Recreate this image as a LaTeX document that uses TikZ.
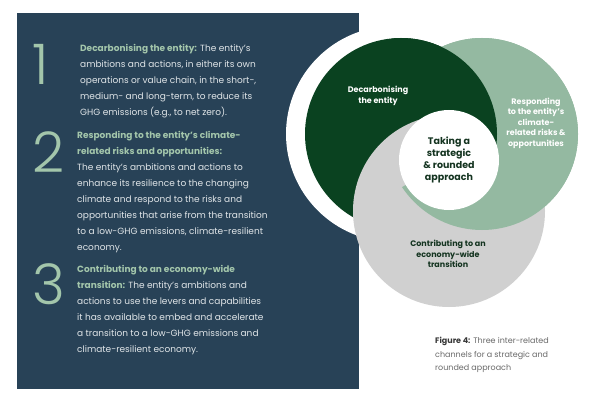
\documentclass[tikz,border=0pt]{standalone}
\usepackage{fontspec}
\setmainfont{Poppins}
\newfontfamily\numfont{Poppins Light}
\usetikzlibrary{positioning,calc}
\definecolor{panelnavy}{RGB}{40,66,87}
\definecolor{decarbgreen}{RGB}{10,66,32}
\definecolor{respondgreen}{RGB}{148,185,161}
\definecolor{contribgrey}{RGB}{208,208,208}
\definecolor{headgreen}{RGB}{163,198,171}
\definecolor{bodylight}{RGB}{224,229,232}
\definecolor{centregreen}{RGB}{20,52,32}
\definecolor{captiongrey}{RGB}{105,105,105}
\definecolor{captiondark}{RGB}{55,55,55}
\tikzset{
  panelpara/.style={
    anchor=north west, align=left, inner sep=0pt,
    text=bodylight, font=\fontsize{9}{16}\selectfont
  },
  bignum/.style={
    anchor=base west, inner sep=0pt, text=headgreen,
    font=\numfont\fontsize{56}{56}\selectfont
  },
  ringlabel/.style={
    align=center, inner sep=0pt,
    font=\bfseries\fontsize{8}{10.5}\selectfont
  },
  decarb/.style={fill=decarbgreen},
  respond/.style={fill=respondgreen},
  contrib/.style={fill=contribgrey}
}
\newcommand{\hd}[1]{\textcolor{headgreen}{\bfseries #1}}

\begin{document}
\begin{tikzpicture}[x=1pt, y=1pt]
  \useasboundingbox (0,0) rectangle (602,405);
  \fill[white] (0,0) rectangle (602,405);

  % left panel
  \fill[panelnavy] (17,16) rectangle (359,392);

  \node[panelpara] (p1) at (80,361)
    {\hd{Decarbonising the entity:} The entity’s\\
     ambitions and actions, in either its own\\
     operations or value chain, in the short-,\\
     medium- and long-term, to reduce its\\
     GHG emissions (e.g., to net zero).};
  \node[panelpara] (p2) at (77,274)
    {\hd{Responding to the entity’s climate-}\\
     \hd{related risks and opportunities:}\\
     The entity’s ambitions and actions to\\
     enhance its resilience to the changing\\
     climate and respond to the risks and\\
     opportunities that arise from the transition\\
     to a low-GHG emissions, climate-resilient\\
     economy.};
  \node[panelpara] (p3) at (77,140)
    {\hd{Contributing to an economy-wide}\\
     \hd{transition:} The entity’s ambitions and\\
     actions to use the levers and capabilities\\
     it has available to embed and accelerate\\
     a transition to a low-GHG emissions and\\
     climate-resilient economy.};

  \node[bignum] (n1) at (32,320) {1};
  \node[bignum] (n2) at (32,233) {2};
  \node[bignum] (n3) at (32,101) {3};

  % rings
  \coordinate (cD) at (401,271);
  \coordinate (cR) at (482,271);
  \coordinate (cC) at (449,194);
  \coordinate (cT) at (449,245);
  \coordinate (cW) at (394,271);

  \fill[white] (cW) circle[radius=108pt];

  \fill[respond] (cR) circle[radius=96pt];
  \fill[decarb] (cD) circle[radius=96pt];
  \fill[contrib] (cC) circle[radius=96pt];

  % light green over grey (lower right)
  \begin{scope}
    \clip (cT) -- ($(cT)+(210:300)$) -- ($(cT)+(270:300)$) -- ($(cT)+(330:300)$)
      -- ($(cT)+(30:300)$) -- ($(cT)+(100:300)$) -- cycle;
    \fill[respond] (cR) circle[radius=96pt];
  \end{scope}
  % dark green over light green (top right)
  \begin{scope}
    \clip (cT) -- ($(cT)+(-30:300)$) -- ($(cT)+(40:300)$) -- ($(cT)+(115:300)$) -- cycle;
    \fill[decarb] (cD) circle[radius=96pt];
  \end{scope}

  \fill[white] (cT) circle[radius=50pt];

  \node[ringlabel, text=white] (ld) at (378,309) {Decarbonising\\the entity};
  \node[ringlabel, text=white] (lr) at (536,282)
    {Responding\\to the entity’s\\climate-\\related risks \&\\opportunities};
  \node[ringlabel, text=centregreen] (lc) at (448,151)
    {Contributing to an\\economy-wide\\transition};
  \node[ringlabel, text=centregreen, font=\bfseries\fontsize{9.5}{12}\selectfont]
    (lt) at (cT) {Taking a\\strategic\\\& rounded\\approach};

  % caption
  \node[anchor=north west, align=left, inner sep=0pt, text=captiongrey,
        font=\fontsize{8}{13.5}\selectfont] (cap) at (435,68)
    {\textcolor{captiondark}{\bfseries Figure 4:} Three inter-related\\
     channels for a strategic and\\
     rounded approach};
\end{tikzpicture}
\end{document}
